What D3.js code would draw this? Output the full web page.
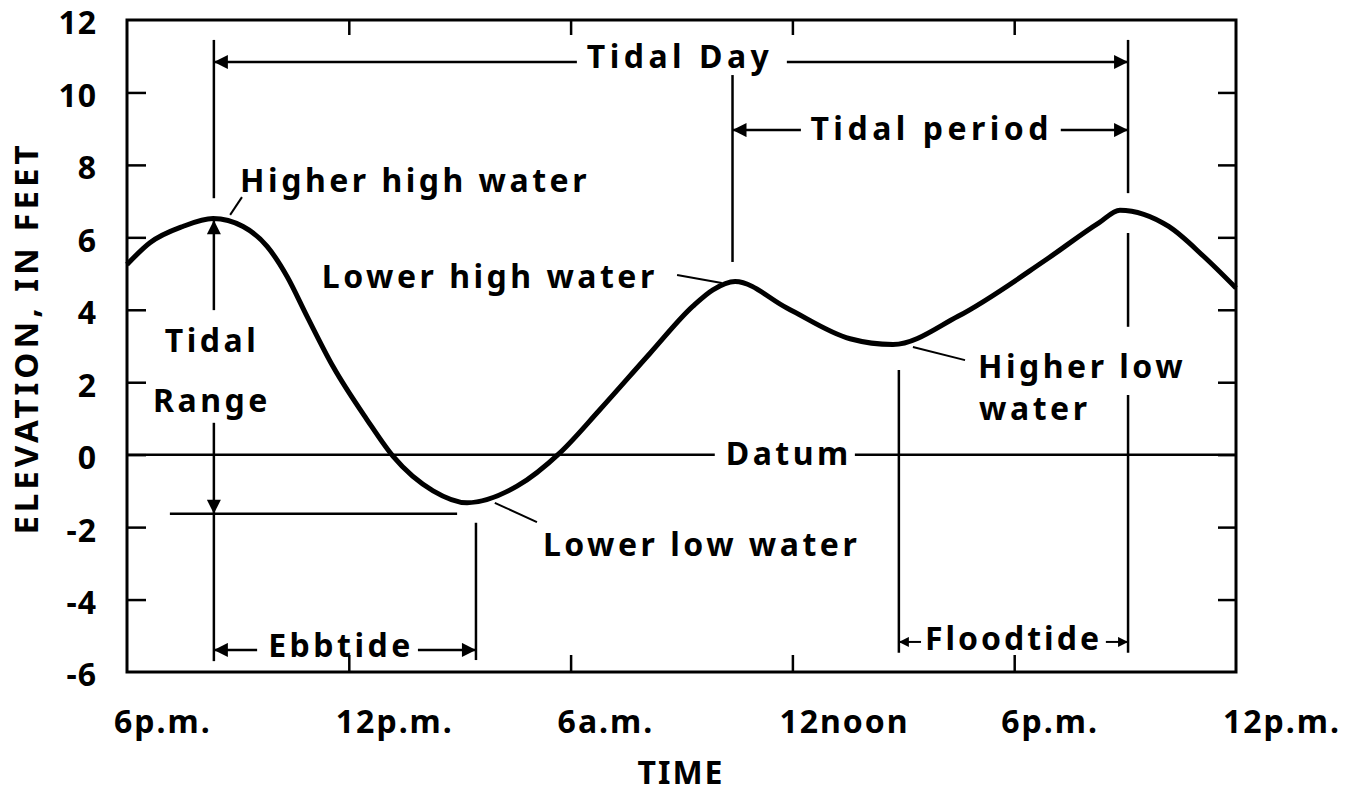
<!DOCTYPE html>
<html>
<head>
<meta charset="utf-8">
<script src="https://cdn.jsdelivr.net/npm/d3@7"></script>
<style>
  body { margin: 0; background: #fff; }
  text { font-family: "Noto Sans", "DejaVu Sans", sans-serif; font-weight: 700; fill: #000; }
</style>
</head>
<body>
<svg id="svg" width="1351" height="793"></svg>
<script>
// tide curve: hours after 6 p.m., elevation in feet
var hours = [0, 0.62, 1.51, 2.33, 3.14, 3.79, 4.33, 4.87, 5.57, 6.49, 7.2, 8.28, 9.2, 10.55, 11.71,
             12.79, 14.15, 15.31, 15.85, 16.45, 17.85, 19.56, 20.72, 22.48, 24.86, 26.29, 26.86, 28.18, 29.13, 30];
var elevation = [5.25, 5.85, 6.3, 6.52, 6.3, 5.75, 4.92, 3.82, 2.44, 0.97, -0.05, -1.0, -1.33, -0.87, 0.05,
                 1.24, 2.8, 4.1, 4.55, 4.78, 4.05, 3.2, 3.04, 3.82, 5.38, 6.4, 6.75, 6.3, 5.47, 4.6];

var timeTicks = [0, 6, 12, 18, 24, 30];
var timeLabels = ["6p.m.", "12p.m.", "6a.m.", "12noon", "6p.m.", "12p.m."];
var elevTicks = [12, 10, 8, 6, 4, 2, 0, -2, -4, -6];

// times of the marked highs and lows (hours)
var tHHW1 = 2.35, tLLW = 9.44, tLHW = 16.38, tHLW = 20.88, tHHW2 = 27.08;
var rangeLow = -1.63;

var svg = d3.select("#svg");
svg.append("rect").attr("width", 1351).attr("height", 793).attr("fill", "#fff");

var x = d3.scaleLinear().domain([0, 30]).range([127, 1236]);
var y = d3.scaleLinear().domain([-6, 12]).range([672, 20]);

var defs = svg.append("defs");
defs.append("marker").attr("id", "head")
    .attr("viewBox", "0 0 10 10").attr("refX", 10).attr("refY", 5)
    .attr("markerWidth", 16).attr("markerHeight", 14)
    .attr("markerUnits", "userSpaceOnUse").attr("orient", "auto")
  .append("path").attr("d", "M0,0L10,5L0,10Z").attr("fill", "#000");
defs.append("marker").attr("id", "small")
    .attr("viewBox", "0 0 10 10").attr("refX", 10).attr("refY", 5)
    .attr("markerWidth", 11).attr("markerHeight", 10)
    .attr("markerUnits", "userSpaceOnUse").attr("orient", "auto")
  .append("path").attr("d", "M0,0L10,5L0,10Z").attr("fill", "#000");

// frame
svg.append("rect")
    .attr("x", x(0)).attr("y", y(12))
    .attr("width", x(30) - x(0)).attr("height", y(-6) - y(12))
    .attr("fill", "none").attr("stroke", "#000").attr("stroke-width", 3);

// inner ticks on all four sides
var g = svg.append("g");
g.append("g").attr("transform", "translate(" + x(0) + ",0)")
    .call(d3.axisRight(y).tickValues(elevTicks.slice(1, -1)).tickSize(19).tickFormat(""));
g.append("g").attr("transform", "translate(" + x(30) + ",0)")
    .call(d3.axisLeft(y).tickValues(elevTicks.slice(1, -1)).tickSize(18).tickFormat(""));
g.append("g").attr("transform", "translate(0," + y(-6) + ")")
    .call(d3.axisTop(x).tickValues(timeTicks.slice(1, -1)).tickSize(17).tickFormat(""));
g.append("g").attr("transform", "translate(0," + y(12) + ")")
    .call(d3.axisBottom(x).tickValues(timeTicks.slice(1, -1)).tickSize(15).tickFormat(""));
g.selectAll(".domain").remove();
g.selectAll(".tick line").attr("stroke", "#000").attr("stroke-width", 2.5);

// tick labels
svg.selectAll(".ylab").data(elevTicks).enter().append("text")
    .attr("x", x(0) - 30).attr("y", function(d) { return y(d); })
    .attr("dy", "0.45em").attr("text-anchor", "end")
    .style("font-size", "32px").style("letter-spacing", "1px")
    .text(function(d) { return d; });
svg.selectAll(".xlab").data(timeTicks).enter().append("text")
    .attr("x", function(d) { return x(d) - 13; }).attr("y", 733)
    .style("font-size", "32px").style("letter-spacing", "2px")
    .text(function(d, i) { return timeLabels[i]; });

svg.append("text").attr("x", 681).attr("y", 784).attr("text-anchor", "middle")
    .style("font-size", "32px").style("letter-spacing", "2px").text("TIME");
svg.append("text").attr("transform", "translate(38,338) rotate(-90)").attr("text-anchor", "middle")
    .style("font-size", "33px").style("letter-spacing", "4px").text("ELEVATION, IN FEET");

// helper for annotation lines in data units
function seg(t1, e1, t2, e2, w, mark) {
    var l = svg.append("line")
        .attr("x1", x(t1)).attr("y1", y(e1)).attr("x2", x(t2)).attr("y2", y(e2))
        .attr("stroke", "#000").attr("stroke-width", w || 2.5);
    if (mark) l.attr("marker-end", "url(#" + mark + ")");
    return l;
}
function label(t, e, s, anchor) {
    return svg.append("text").attr("x", x(t)).attr("y", y(e))
        .attr("text-anchor", anchor || "start")
        .style("font-size", "32px").style("letter-spacing", "3.5px").text(s);
}

// datum
seg(0, 0, 15.9, 0, 2.5);
seg(19.69, 0, 30, 0, 2.5);
label(17.9, -0.28, "Datum", "middle");

// tidal day
seg(tHHW1, 11.45, tHHW1, 7.08);
seg(tHHW2, 11.45, tHHW2, 7.22);
seg(12.17, 10.84, tHHW1, 10.84, 2.5, "head");
seg(17.85, 10.84, tHHW2, 10.84, 2.5, "head");
label(14.96, 10.68, "Tidal Day", "middle").style("letter-spacing", "4.5px");

// tidal period
seg(tLHW, 10.48, tLHW, 5.32);
seg(18.23, 8.96, tLHW, 8.96, 2.5, "head");
seg(25.26, 8.96, tHHW2, 8.96, 2.5, "head");
label(21.77, 8.69, "Tidal period", "middle").style("letter-spacing", "4.5px");

// tidal range
seg(tHHW1, 3.99, tHHW1, 6.47, 2.5, "head");
seg(tHHW1, 0.88, tHHW1, rangeLow, 2.5, "head");
seg(tHHW1, rangeLow, tHHW1, -5.7);
seg(1.16, rangeLow, 8.93, rangeLow);
label(2.3, 2.84, "Tidal", "middle");
label(2.3, 1.18, "Range", "middle");

// ebbtide
seg(tLLW, -1.88, tLLW, -5.67);
seg(3.52, -5.39, tHHW1, -5.39, 2.5, "head");
seg(7.87, -5.39, tLLW, -5.39, 2.5, "head");
label(5.79, -5.59, "Ebbtide", "middle");

// floodtide
seg(tHLW, 2.34, tHLW, -5.47);
seg(tHHW2, 6.12, tHHW2, 3.53);
seg(tHHW2, 1.65, tHHW2, -5.47);
seg(21.48, -5.17, tHLW, -5.17, 2, "small");
seg(26.48, -5.17, tHHW2, -5.17, 2, "small");
label(23.98, -5.39, "Floodtide", "middle").style("letter-spacing", "3px");

// the tide curve
var line = d3.line()
    .x(function(d, i) { return x(hours[i]); })
    .y(function(d) { return y(d); })
    .curve(d3.curveMonotoneX);
svg.append("path").datum(elevation)
    .attr("d", line).attr("fill", "none")
    .attr("stroke", "#000").attr("stroke-width", 5).attr("stroke-linejoin", "round");

// named highs and lows with leaders
seg(2.79, 6.62, 3.11, 7.11, 2);
label(3.06, 7.25, "Higher high water");
seg(14.88, 4.96, 16.09, 4.74, 2);
label(5.27, 4.6, "Lower high water");
seg(9.95, -1.33, 11.09, -1.86, 2);
label(11.25, -2.8, "Lower low water");
seg(21.26, 2.97, 22.67, 2.61, 2);
label(23.02, 2.12, "Higher low");
label(23.05, 0.96, "water");
</script>
</body>
</html>
